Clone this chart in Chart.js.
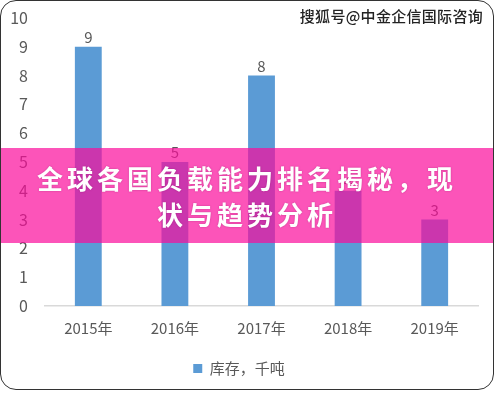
<!DOCTYPE html>
<html lang="zh">
<head>
  <meta charset="UTF-8">
  <title>库存，千吨</title>
  <script src="https://cdn.jsdelivr.net/npm/chart.js"></script>
  <style>
    body { margin: 0; background: #fff; }
    .wrap { position: relative; width: 497px; height: 393px; overflow: hidden; }
    .frame {
      position: absolute; left: 0; top: 0; width: 492px; height: 388px;
      border: 1.5px solid #333; border-radius: 16px; pointer-events: none;
    }
    .banner {
      position: absolute; left: 0; top: 148px; width: 494px; height: 95px;
      background: rgba(251, 11, 155, 0.7);
      color: #fff; text-align: center;
      font-family: "Noto Sans CJK SC", sans-serif; font-weight: 700;
      font-size: 26px; letter-spacing: 4px; line-height: 36px;
      padding-top: 12px; box-sizing: border-box;
      text-shadow: 0 0 2px rgba(120, 0, 80, 0.4);
    }
    .mark {
      position: absolute; right: 14px; top: 5px;
      font-family: "Noto Sans CJK SC", sans-serif; font-size: 15px; font-weight: 500;
      color: #222; letter-spacing: 0.3px;
      text-shadow: -1px 0 #fff, 1px 0 #fff, 0 -1px #fff, 0 1px #fff;
    }
  </style>
</head>
<body>
  <div class="wrap">
    <canvas id="myChart" width="497" height="393"></canvas>
    <div class="banner">全球各国负载能力排名揭秘，现<br>状与趋势分析</div>
    <div class="mark">搜狐号@中金企信国际咨询</div>
    <div class="frame"></div>
  </div>

  <script>
    const anos = ['2015年', '2016年', '2017年', '2018年', '2019年'];
    const estoque = [9, 5, 8, 4, 3];
    const ticksY = [0, 1, 2, 3, 4, 5, 6, 7, 8, 9, 10];

    const corTexto = '#595959';
    const fonte = '"Noto Sans CJK SC", "Liberation Sans", sans-serif';

    // rotulos em cima das barras
    const rotulos = {
      id: 'rotulos',
      afterDatasetsDraw(chart) {
        const ctx = chart.ctx;
        const meta = chart.getDatasetMeta(0);
        ctx.save();
        ctx.fillStyle = corTexto;
        ctx.font = '15px ' + fonte;
        ctx.textAlign = 'center';
        ctx.textBaseline = 'bottom';
        meta.data.forEach((bar, i) => {
          ctx.fillText(estoque[i], bar.x, bar.y - 2);
        });
        ctx.restore();
      }
    };

    const ctx = document.getElementById('myChart').getContext('2d');
    new Chart(ctx, {
      type: 'bar',
      data: {
        labels: anos,
        datasets: [{
          label: '库存，千吨',
          data: estoque,
          backgroundColor: '#5b9bd5',
          categoryPercentage: 1,
          barPercentage: 0.31
        }]
      },
      options: {
        responsive: false,
        animation: false,
        layout: { padding: { left: 0, right: 19, top: 18, bottom: 7 } },
        plugins: {
          tooltip: { enabled: false },
          legend: {
            position: 'bottom',
            labels: {
              color: corTexto,
              font: { size: 15, family: fonte },
              boxWidth: 9,
              boxHeight: 9,
              padding: 10
            }
          }
        },
        scales: {
          y: {
            min: 0,
            max: 10,
            afterBuildTicks: (s) => { s.ticks = ticksY.map(v => ({ value: v })); },
            afterFit: (s) => { s.width = 45; s.paddingTop = 0; s.paddingBottom = 0; },
            grid: { display: false, drawTicks: false },
            border: { display: false },
            ticks: { color: corTexto, padding: 17, font: { size: 16, family: fonte } }
          },
          x: {
            afterFit: (s) => { s.height = 45; },
            grid: { display: false, drawTicks: false },
            border: { display: true, color: '#d9d9d9', width: 1.5 },
            ticks: { color: corTexto, padding: 13, font: { size: 15, family: fonte } }
          }
        }
      },
      plugins: [rotulos]
    });
  </script>
</body>
</html>
